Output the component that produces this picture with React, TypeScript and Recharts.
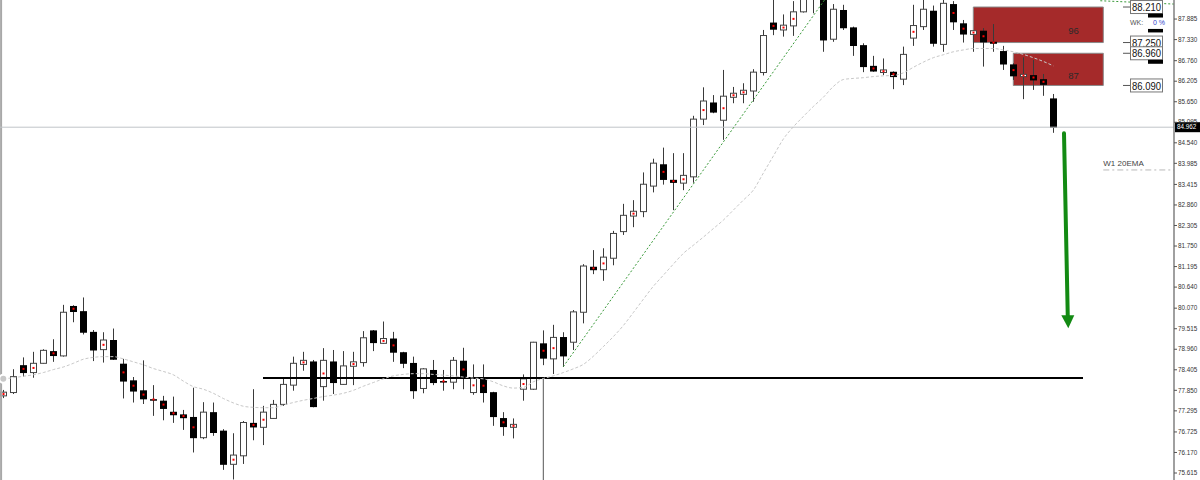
import React from 'react';
import { ComposedChart, Bar, Line, XAxis, YAxis, ReferenceLine, ReferenceArea, ReferenceDot } from 'recharts';

// daily candles, oldest first
const opens = [
    77.70, 77.79, 78.53, 78.33, 78.58, 78.91, 78.78, 80.13, 79.99, 79.43,
    78.95, 79.21, 78.57, 78.12, 77.85, 77.61, 77.57, 77.27, 77.20, 77.13,
    76.57, 77.26, 76.76, 75.85, 76.08, 76.97, 76.85, 77.09, 77.47, 77.99,
    78.55, 78.63, 77.95, 78.63, 78.01, 78.50, 78.60, 79.47, 79.12, 79.25,
    78.88, 78.59, 77.90, 78.40, 78.10, 78.07, 78.65, 77.79, 78.16, 77.80,
    77.10, 76.85, 77.88, 77.88, 79.12, 78.70, 79.29, 79.15, 79.96, 81.19,
    81.11, 81.42, 82.14, 82.56, 82.68, 83.37, 83.96, 83.54, 83.45, 83.62,
    85.18, 85.63, 85.15, 85.77, 85.85, 85.94, 86.44, 87.79, 87.59, 87.70,
    88.08, 88.52, 88.60, 87.34, 88.13, 87.66, 87.18, 86.62, 86.44, 86.46,
    86.26, 87.37, 87.68, 88.11, 87.20, 88.29, 87.77, 87.47, 87.57, 87.27,
    87.02, 86.66, 86.33, 86.37, 86.26, 85.74,
];
const highs = [
    77.86, 78.42, 78.74, 78.89, 78.96, 79.23, 80.16, 80.15, 80.36, 79.48,
    79.42, 79.52, 78.70, 78.21, 78.66, 77.99, 77.70, 77.68, 77.32, 77.92,
    77.53, 77.52, 76.80, 76.69, 77.02, 77.88, 77.43, 77.59, 78.18, 78.76,
    78.89, 78.67, 78.99, 78.94, 78.91, 78.89, 79.45, 79.48, 79.71, 79.43,
    78.89, 78.76, 78.45, 78.67, 78.40, 78.75, 79.00, 78.55, 78.55, 77.81,
    77.26, 77.09, 78.28, 79.16, 79.47, 79.62, 79.42, 80.02, 81.26, 81.64,
    81.69, 82.16, 82.89, 82.99, 83.74, 84.11, 84.41, 84.26, 84.26, 85.27,
    86.04, 85.83, 86.51, 86.05, 86.15, 86.53, 87.59, 88.45, 88.01, 88.37,
    88.62, 88.80, 88.75, 88.29, 88.27, 87.68, 87.23, 86.89, 86.82, 86.47,
    87.14, 88.27, 88.40, 88.25, 88.42, 88.37, 87.86, 87.58, 87.64, 87.75,
    87.16, 86.69, 86.85, 86.78, 86.40, 85.86,
];
const lows = [
    77.64, 77.75, 78.22, 78.19, 78.57, 78.62, 78.76, 79.69, 79.36, 78.64,
    78.60, 78.67, 77.63, 77.52, 77.48, 77.16, 77.04, 76.97, 76.78, 76.17,
    76.53, 76.62, 75.70, 75.44, 75.86, 76.50, 76.37, 77.08, 77.43, 77.84,
    78.38, 77.39, 77.57, 77.75, 78.00, 77.99, 78.49, 78.91, 79.11, 78.62,
    78.45, 77.62, 77.77, 77.99, 77.84, 77.88, 77.88, 77.73, 77.52, 76.89,
    76.62, 76.55, 77.57, 77.86, 78.53, 78.29, 78.48, 78.94, 79.66, 80.99,
    80.81, 81.23, 82.05, 82.26, 82.53, 83.20, 83.41, 82.72, 83.26, 83.46,
    85.02, 85.34, 84.62, 85.61, 85.61, 85.65, 86.36, 87.45, 87.41, 87.43,
    88.06, 88.04, 87.00, 87.27, 87.59, 86.89, 86.45, 86.46, 86.37, 85.99,
    86.10, 87.16, 87.59, 87.14, 87.00, 87.59, 87.25, 87.00, 86.60, 87.00,
    86.51, 86.24, 85.72, 85.97, 85.81, 84.81,
];
const closes = [
    77.80, 78.22, 78.33, 78.58, 78.93, 78.79, 79.96, 79.98, 79.42, 78.94,
    79.21, 78.69, 78.10, 77.83, 77.62, 77.60, 77.36, 77.19, 77.11, 76.57,
    77.26, 76.71, 75.85, 76.10, 76.98, 76.86, 77.26, 77.47, 78.01, 78.58,
    78.66, 77.41, 78.66, 78.06, 78.51, 78.62, 79.27, 79.14, 79.25, 78.88,
    78.58, 77.84, 78.43, 78.06, 78.09, 78.66, 78.18, 78.18, 77.79, 77.14,
    76.87, 76.93, 78.16, 79.15, 78.72, 79.28, 78.78, 79.97, 81.21, 81.11,
    81.45, 82.09, 82.58, 82.69, 83.42, 83.99, 83.55, 83.47, 83.66, 85.18,
    85.67, 85.37, 85.80, 85.88, 85.96, 86.45, 87.44, 87.61, 87.72, 88.08,
    88.50, 88.70, 87.32, 88.15, 87.65, 87.17, 86.60, 86.48, 86.51, 86.33,
    86.93, 87.71, 88.15, 87.23, 88.31, 87.81, 87.48, 87.57, 87.27, 87.23,
    86.67, 86.35, 86.39, 86.24, 86.12, 84.96,
];
const ema20 = [
    78.16, 78.19, 78.23, 78.27, 78.33, 78.41, 78.48, 78.58, 78.69, 78.74,
    78.76, 78.76, 78.70, 78.62, 78.54, 78.44, 78.36, 78.27, 78.10, 77.95,
    77.88, 77.77, 77.63, 77.51, 77.42, 77.39, 77.38, 77.38, 77.45, 77.52,
    77.58, 77.63, 77.68, 77.72, 77.77, 77.85, 77.96, 78.06, 78.16, 78.24,
    78.28, 78.30, 78.30, 78.28, 78.26, 78.24, 78.21, 78.18, 78.16, 78.08,
    77.97, 77.91, 77.93, 78.08, 78.17, 78.24, 78.33, 78.43, 78.55, 78.77,
    79.03, 79.30, 79.60, 79.95, 80.31, 80.66, 80.96, 81.26, 81.55, 81.77,
    81.99, 82.22, 82.45, 82.72, 82.99, 83.26, 83.72, 84.18, 84.64, 84.97,
    85.25, 85.52, 85.77, 86.06, 86.25, 86.28, 86.30, 86.33, 86.35, 86.36,
    86.43, 86.58, 86.72, 86.84, 86.92, 87.00, 87.05, 87.09, 87.09, 87.09,
    87.05, 87.00, 86.93, 86.84, 86.74, 86.62,
];
// candles carrying the little red marker
const markedCandles = [
    0, 2, 3, 5, 7, 10, 12, 13, 14, 15, 16, 17, 18, 19, 23, 25, 26, 30, 32, 35,
    38, 39, 44, 46, 47, 48, 50, 51, 52, 54, 55, 59, 60, 63, 66, 67, 68, 70, 72, 73,
    74, 77, 78, 79, 87, 88, 89, 91, 95, 96, 97, 98, 99, 101, 102, 103, 104,
];
const priceTicks = [
    87.885, 87.330, 86.760, 86.205, 85.650, 85.095, 84.540, 83.985, 83.415, 82.860,
    82.305, 81.750, 81.195, 80.640, 80.070, 79.515, 78.960, 78.405, 77.850, 77.295,
    76.725, 76.170, 75.615,
];
const lastPrice = 84.962;
const upperZone = [88.21, 87.25];
const lowerZone = [86.96, 86.09];
const supportLevel = 78.18;
const trendStart = { x: 56, y: 78.49 };
const trendEnd = { x: 82.12, y: 88.4 };
const weeklyEma = 83.806;
const arrowFrom = { x: 106.07, y: 84.8 };
const arrowTo = { x: 106.45, y: 79.8 };

const rows = opens.map((o, i) => ({
    i,
    open: o,
    high: highs[i],
    low: lows[i],
    close: closes[i],
    ema: ema20[i],
    mark: markedCandles.includes(i),
}));

const FONT = '"Liberation Sans", Arial, sans-serif';

const Candle = (props: any) => {
    const { x, y, width, height, payload } = props;
    if (!payload) return null;
    const { open, close, high, low, mark } = payload;
    const top = Math.min(y, y + height);
    const h = Math.abs(height);
    const per = h / (high - low);
    const py = (v: number) => top + (high - v) * per;
    const cx = Math.round(x + width / 2) + 0.5;
    const bull = close >= open;
    const bTop = py(Math.max(open, close));
    const bBot = py(Math.min(open, close));
    const bh = Math.max(bBot - bTop, 1);
    return (
        <g>
            <line x1={cx} x2={cx} y1={py(high)} y2={py(low)} stroke="#3a3a3a" strokeWidth={1} />
            {bull ? (
                <rect x={cx - 3} y={bTop} width={6} height={bh} fill="#fff" stroke="#444" strokeWidth={1} />
            ) : (
                <rect x={cx - 3.5} y={bTop} width={7} height={bh + 0.5} fill="#000" />
            )}
            {mark && <rect x={cx - 1} y={(bTop + bBot) / 2 - 1} width={2} height={2} fill="#ff0000" />}
        </g>
    );
};

const PriceTick = (props: any) => {
    const { x, y, payload } = props;
    return (
        <text x={x} y={y} dy={2.2} fontSize={6.3} fill="#333" fontFamily={FONT}>
            {Number(payload.value).toFixed(3)}
        </text>
    );
};

const ZoneLabel = (props: any) => {
    const { viewBox, text } = props;
    if (!viewBox) return null;
    return (
        <text x={viewBox.x + viewBox.width - 35} y={viewBox.y + viewBox.height / 2 + 9.5} fontSize={9.5} fill="#2a2a2a" fontFamily={FONT}>
            {text}
        </text>
    );
};

const PriceTag = (props: any) => {
    const { cx, cy, text, bar } = props;
    return (
        <g>
            <line x1={cx - 7} x2={cx} y1={cy} y2={cy} stroke="#555" strokeWidth={1} />
            <rect x={cx + 0.5} y={cy - 6.5} width={32} height={13} fill="#fff" stroke="#777" strokeWidth={1} />
            <text x={cx + 2} y={cy + 4.2} fontSize={11} fill="#111" fontFamily={FONT} textLength={29} lengthAdjust="spacingAndGlyphs">
                {text}
            </text>
            {bar && <rect x={cx + 18} y={cy + 6.5} width={15} height={4} fill="#000" />}
        </g>
    );
};

const WeekTag = (props: any) => {
    const { cx, cy } = props;
    return (
        <g fontFamily={FONT} fontSize={7}>
            <text x={cx} y={cy + 2.5} fill="#555">WK:</text>
            <text x={cx + 23} y={cy + 2.5} fill="#3344cc">0 %</text>
            <rect x={cx + 18} y={cy + 6} width={15} height={3.5} fill="#000" />
        </g>
    );
};

const LastPriceTag = (props: any) => {
    const { viewBox } = props;
    if (!viewBox) return null;
    const x = viewBox.x + viewBox.width + 1;
    return (
        <g>
            <rect x={x} y={viewBox.y - 5} width={25} height={10} fill="#000" />
            <text x={x + 2} y={viewBox.y + 2.3} fontSize={6.3} fill="#fff" fontFamily={FONT}>
                {lastPrice.toFixed(3)}
            </text>
        </g>
    );
};

const EmaLabel = (props: any) => {
    const { viewBox } = props;
    if (!viewBox) return null;
    return (
        <text x={viewBox.x} y={viewBox.y - 3.5} fontSize={8} fill="#444" fontFamily={FONT}>
            W1 20EMA
        </text>
    );
};

const Arrow = (props: any) => {
    const { x1, y1, x2, y2 } = props;
    if (x1 == null) return null;
    return (
        <g>
            <line x1={x1} y1={y1} x2={x2} y2={y2} stroke="#138a13" strokeWidth={4} strokeLinecap="round" />
            <polygon points={`${x2 - 6.5},${y2 - 3} ${x2 + 6.5},${y2 - 3} ${x2 + 0.5},${y2 + 10}`} fill="#138a13" />
        </g>
    );
};

export default function App() {
    return (
        <div style={{ position: 'absolute', left: 0, top: 0, width: 1200, height: 480, background: '#fff', overflow: 'hidden' }}>
            <ComposedChart width={1200} height={480} data={rows} margin={{ top: 0, right: 0, bottom: 0, left: 0 }}>
                <XAxis dataKey="i" type="number" domain={[-0.33, 117.07]} hide allowDataOverflow />
                <YAxis
                    orientation="right"
                    width={26}
                    domain={[75.426, 88.4]}
                    allowDataOverflow
                    ticks={priceTicks}
                    interval={0}
                    tick={<PriceTick />}
                    tickSize={3}
                    tickMargin={1}
                    axisLine={{ stroke: '#808080', strokeWidth: 1.5 }}
                    tickLine={{ stroke: '#555' }}
                />
                <ReferenceLine x={-0.22} stroke="#a8a8a8" strokeWidth={2} />
                <ReferenceArea x1={97} x2={110} y1={upperZone[1]} y2={upperZone[0]} fill="#a52a2a" fillOpacity={1} stroke="#8a8a8a" label={<ZoneLabel text="96" />} />
                <ReferenceArea x1={101} x2={110} y1={lowerZone[1]} y2={lowerZone[0]} fill="#a52a2a" fillOpacity={1} stroke="#8a8a8a" label={<ZoneLabel text="87" />} />
                <ReferenceLine y={lastPrice} stroke="#c0c4c8" strokeWidth={1} label={<LastPriceTag />} />
                <ReferenceLine segment={[{ x: 54, y: supportLevel }, { x: 54, y: 75.426 }]} stroke="#555" strokeWidth={1} />
                <ReferenceLine segment={[{ x: 25.97, y: supportLevel }, { x: 107.97, y: supportLevel }]} stroke="#000" strokeWidth={2} />
                <ReferenceLine segment={[trendStart, trendEnd]} stroke="#3a9a3a" strokeDasharray="2 2" strokeWidth={1} />
                <ReferenceLine segment={[{ x: 109.7, y: 88.38 }, { x: 117.07, y: 88.29 }]} stroke="#3a9a3a" strokeDasharray="2 2" strokeWidth={1} />
                <ReferenceLine segment={[{ x: 110, y: weeklyEma }, { x: 117.07, y: weeklyEma }]} stroke="#b8b8b8" strokeDasharray="6 3 2 3" strokeWidth={1} label={<EmaLabel />} />
                <Line dataKey="ema" type="monotone" stroke="#c8c8c8" strokeDasharray="3 2" strokeWidth={1} dot={false} isAnimationActive={false} />
                <Bar dataKey={(d: any) => [d.low, d.high]} shape={<Candle />} barSize={7} isAnimationActive={false} />
                <ReferenceLine segment={[arrowFrom, arrowTo]} shape={<Arrow />} />
                <ReferenceDot x={112.67} y={upperZone[0]} r={0} shape={(p: any) => <PriceTag {...p} text="88.210" bar />} />
                <ReferenceDot x={112.67} y={87.78} r={0} shape={(p: any) => <WeekTag {...p} />} />
                <ReferenceDot x={112.67} y={upperZone[1]} r={0} shape={(p: any) => <PriceTag {...p} text="87.250" />} />
                <ReferenceDot x={112.67} y={lowerZone[0]} r={0} shape={(p: any) => <PriceTag {...p} text="86.960" bar />} />
                <ReferenceDot x={112.67} y={lowerZone[1]} r={0} shape={(p: any) => <PriceTag {...p} text="86.090" />} />
            </ComposedChart>
        </div>
    );
}
